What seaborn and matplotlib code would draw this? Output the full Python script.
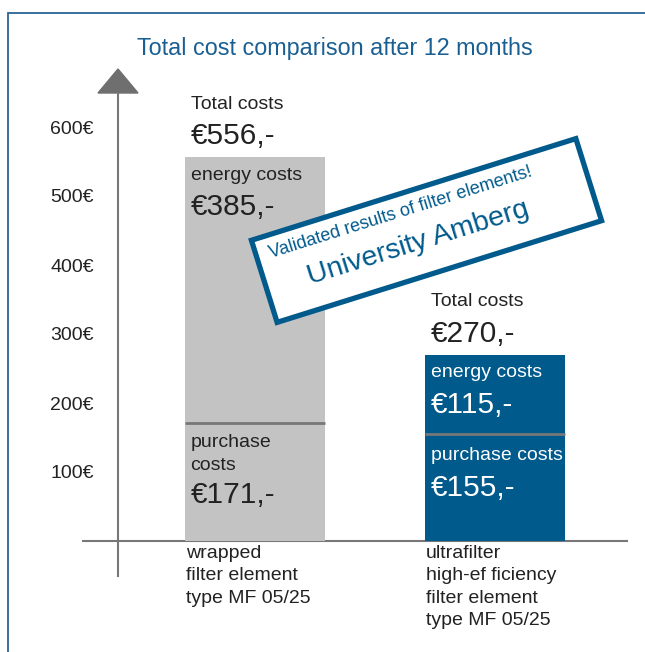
import pandas as pd
import matplotlib
matplotlib.use('Agg')
import matplotlib.pyplot as plt
import matplotlib.patches as mpatches
import matplotlib.transforms as mtransforms
import seaborn as sns

# data
categories = ['wrapped\nfilter element\ntype MF 05/25',
              'ultrafilter\nhigh-ef ficiency\nfilter element\ntype MF 05/25']
purchase_costs = [171, 155]
energy_costs = [385, 115]
total_costs = [556, 270]
y_ticks = [100, 200, 300, 400, 500, 600]

df = pd.DataFrame({'category': categories, 'purchase': purchase_costs,
                   'energy': energy_costs, 'total': total_costs})

GRAY = '#c3c3c3'
BLUE = '#005a8c'
AXIS = '#777777'
TXT = '#222222'
TITLE = '#1a5f92'

sns.set_style('white')
plt.rcParams['font.family'] = ['Liberation Sans', 'DejaVu Sans']

W, H = 645, 652
fig = plt.figure(figsize=(W / 100, H / 100), dpi=100)

# axes placed in pixels: x 82..628, y 60..580 (image coords)
ax = fig.add_axes([82 / W, 1 - 580 / H, (628 - 82) / W, (580 - 60) / H])
px_per_unit = 69 / 100
ax.set_ylim(-(580 - 541) / px_per_unit, (541 - 60) / px_per_unit)

bar_w = 140 / 240
sns.barplot(data=df, x='category', y='total', hue='category',
            palette=[GRAY, BLUE], width=bar_w, saturation=1,
            legend=False, ax=ax, zorder=2, edgecolor='none')
ax.set_xlim(-(255 - 82) / 240, 1 + (628 - 495) / 240)

# divider between purchase and energy costs
for i, p in enumerate(purchase_costs):
    ax.hlines(p, i - bar_w / 2, i + bar_w / 2, color=AXIS, lw=2, zorder=3)

# axes styling
for s in ['top', 'right', 'bottom']:
    ax.spines[s].set_visible(False)
axis_x = (118 - 255) / 240
ax.spines['left'].set_position(('data', axis_x))
ax.spines['left'].set_bounds(-50, (541 - 93) / px_per_unit)
ax.spines['left'].set_color(AXIS)
ax.spines['left'].set_linewidth(1.5)
ax.set_yticks(y_ticks)
ax.set_yticklabels([f'{v}€' for v in y_ticks])
ax.tick_params(axis='y', direction='inout', length=26.6, width=1.5,
               color=AXIS, pad=4, labelsize=14, labelcolor=TXT)
ax.set_xticks([])
ax.set_xlabel('')
ax.set_ylabel('')
ax.axhline(0, color=AXIS, lw=1.5, zorder=1)

# arrow head
y_base = (541 - 93) / px_per_unit
y_apex = (541 - 69) / px_per_unit
hw = 20 / 240
ax.add_patch(mpatches.Polygon([[axis_x - hw, y_base], [axis_x + hw, y_base],
                               [axis_x, y_apex]], closed=True,
                              color='#6f6f6f', clip_on=False))

# bar labels
dx_pt = 4
inner = [TXT, 'white']
for i in range(len(categories)):
    left = i - bar_w / 2
    tot = total_costs[i]
    pur = purchase_costs[i]

    def lab(txt, y, off_px, size, color):
        ax.annotate(txt, xy=(left, y), xytext=(dx_pt, off_px * 0.72),
                    textcoords='offset points', ha='left', va='center',
                    fontsize=size, color=color, linespacing=1.45, zorder=5)

    lab('Total costs', tot, 53, 14, TXT)
    lab(f'€{tot},-', tot, 21, 21.5, TXT)
    lab('energy costs', tot, -18, 14, inner[i])
    lab(f'€{energy_costs[i]},-', tot, -50, 21.5, inner[i])
    if i == 0:
        lab('purchase\ncosts', pur, -31, 14, inner[i])
        lab(f'€{pur},-', pur, -72, 21.5, inner[i])
    else:
        lab('purchase costs', pur, -21, 14, inner[i])
        lab(f'€{pur},-', pur, -54, 21.5, inner[i])
    ax.annotate(categories[i], xy=(left, 0), xytext=(0.5, -4 * 0.72),
                textcoords='offset points', ha='left', va='top',
                fontsize=14, color=TXT, linespacing=1.42)

# title
fig.text(335 / W, 1 - 48 / H, 'Total cost comparison after 12 months',
         ha='center', va='center', fontsize=16.8, color=TITLE)

# outer frame
fig.patches.append(mpatches.Rectangle((8, -10), 700, H - 13 + 10,
                                      transform=mtransforms.IdentityTransform(),
                                      fill=False, edgecolor='#2a6496', lw=1.3))

# stamp
cx, cy = 426.5, H - 230.5
sw, sh = 340, 86
ang = 17.4
stamp = mpatches.Rectangle((cx - sw / 2, cy - sh / 2), sw, sh, angle=ang,
                           rotation_point='center', facecolor='white',
                           edgecolor=BLUE, lw=3.8, zorder=10,
                           transform=mtransforms.IdentityTransform())
fig.patches.append(stamp)
fig.text(401 / W, 1 - 213 / H, 'Validated results of filter elements!',
         ha='center', va='center', rotation=ang, rotation_mode='anchor',
         fontsize=13, color=BLUE, zorder=11)
fig.text(418 / W, 1 - 243 / H, 'University Amberg',
         ha='center', va='center', rotation=ang, rotation_mode='anchor',
         fontsize=20.5, color=BLUE, zorder=11)

fig.savefig('out.png', dpi=100, facecolor='white')
